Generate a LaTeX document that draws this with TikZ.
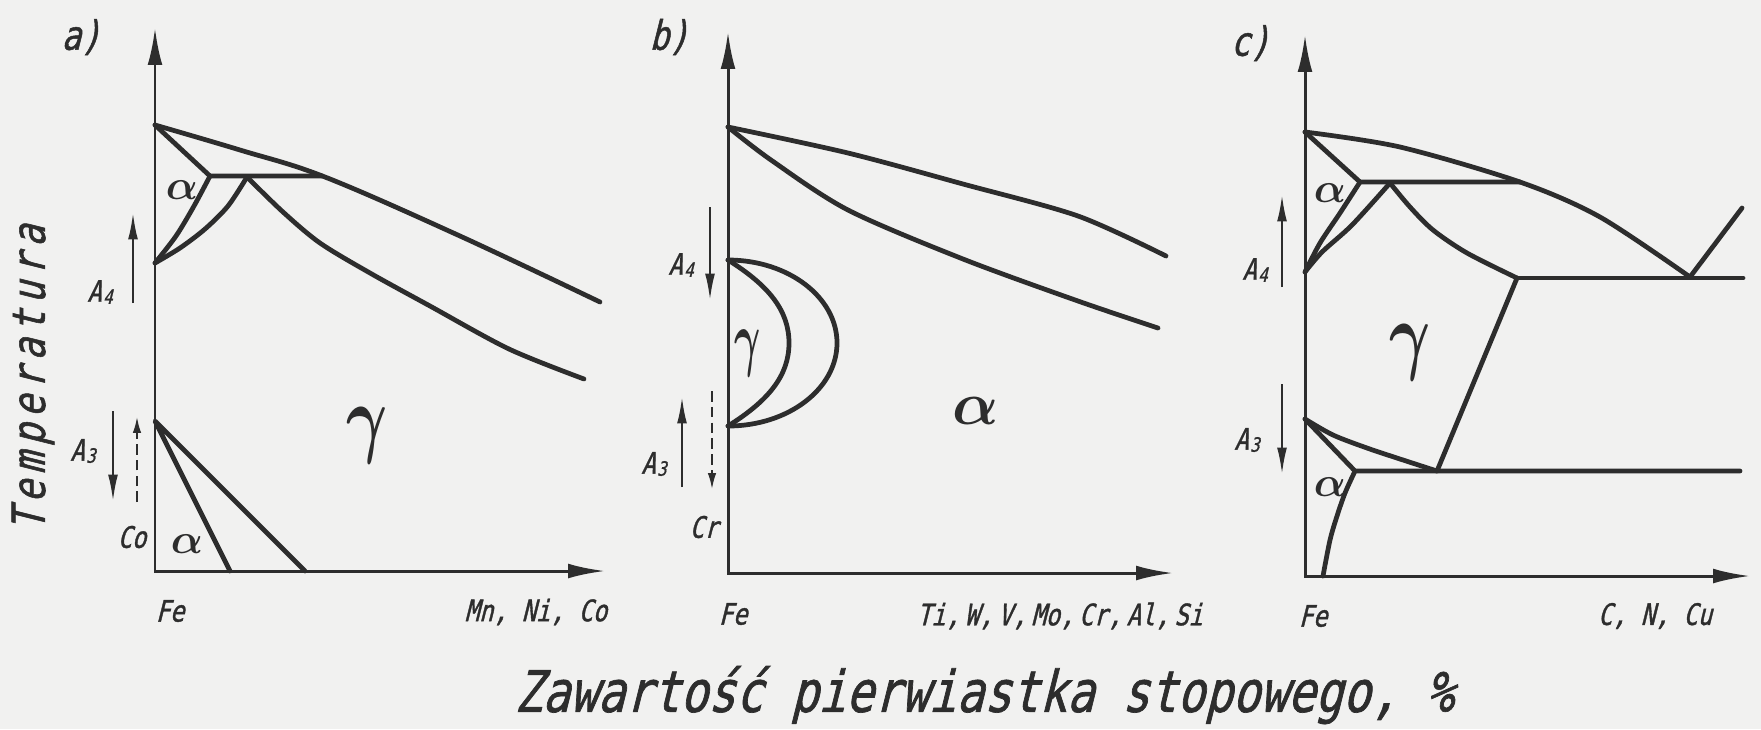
\documentclass[tikz,border=0pt]{standalone}
\usepackage{fontspec}
\usetikzlibrary{arrows.meta}
\newfontfamily\isofont[FakeSlant=0.25,FakeStretch=0.8,FakeBold=1.2]{DejaVu Sans Mono}
\definecolor{ink}{RGB}{45,45,45}
\definecolor{paper}{RGB}{241,241,240}
\newcommand{\Acrit}[1]{A\kern0.4pt\raisebox{-0.6pt}{\fontsize{5.6}{6}\selectfont #1}}

\begin{document}
\begin{tikzpicture}[x=0.01cm,y=-0.01cm,
  phase/.style={ink,line width=1.35pt,line join=round,line cap=round},
  axis/.style={ink,line width=0.85pt,{Latex[length=10.5pt,width=4.2pt]}-{Latex[length=10.5pt,width=4.2pt]}},
  trend/.style={ink,line width=0.6pt,-{Latex[length=7.5pt,width=2.8pt]}},
  trenddash/.style={ink,line width=0.5pt,dash pattern=on 3pt off 1.5pt,-{Latex[length=4.5pt,width=2.4pt]}},
  lbl/.style={ink,inner sep=0pt,font=\isofont\fontsize{8.4}{9}\selectfont},
  greek/.style={ink,inner sep=0pt,font=\boldmath\fontsize{#1}{#1}\selectfont}]
  \fill[paper] (0,0) rectangle (1761,729);
  \useasboundingbox (0,0) rectangle (1761,729);
  % axes and panel letters
  \foreach \x/\t/\b/\r in {155/28/571/605, 728/32/573/1173, 1305/35/576/1750}
    \draw[axis] (\x,\t) -- (\x,\b) -- (\r,\b);
  \foreach \p/\x/\y in {a/81/37, b/669/37, c/1250/43}
    \node[lbl,font=\isofont\fontsize{11.5}{12}\selectfont] (lab\p) at (\x,\y) {\p)};
  % panel a
  \draw[phase] plot[smooth,tension=0.6] coordinates {(155,125) (240,150) (325,177) (460,236) (600,302)};
  \draw[phase] (155,125) -- (210,176) -- (322,176);
  \draw[phase] plot[smooth] coordinates {(210,176) (194,206) (176,236) (155,263)};
  \draw[phase] plot[smooth] coordinates {(155,263) (180,248) (205,229) (228,206) (247,177)};
  \draw[phase] plot[smooth] coordinates {(247,177) (283,212) (320,243) (370,273) (430,306) (509,349) (584,379)};
  \draw[phase] (230,571) -- (155,421) -- (305,571);
  \node[greek=12] (aalphaup) at (182,190) {$\alpha$};
  \node[greek=12] (aalphalow) at (187,544) {$\alpha$};
  \node[greek=24] (agamma) at (367,436) {\scalebox{0.72}[1]{$\gamma$}};
  \node[lbl] (aA4) at (100,292) {\Acrit{4}};
  \node[lbl] (aA3) at (83,451) {\Acrit{3}};
  \node[lbl] (aCo) at (132,537) {Co};
  \node[lbl] (aFe) at (170,611) {Fe};
  \node[lbl] (aX) at (536,612) {Mn, Ni, Co};
  \draw[trend] (133,303) -- (133,213);
  \draw[trend] (113,411) -- (113,501);
  \draw[trenddash] (137,502) -- (137,417);
  % panel b
  \draw[phase] plot[smooth] coordinates {(728,127) (848,153) (963,184) (1078,216) (1166,256)};
  \draw[phase] plot[smooth] coordinates {(728,127) (771,160) (848,210) (963,259) (1078,301) (1158,328)};
  \draw[phase] (728,260) arc[start angle=-90,end angle=90,x radius=109,y radius=83];
  \draw[phase] (728,260) .. controls (768,285) and (789,310) .. (789,343)
    .. controls (789,376) and (768,401) .. (728,426);
  \node[greek=20] (bgamma) at (748,353) {\scalebox{0.55}[1]{$\gamma$}};
  \node[greek=17] (balpha) at (976,411) {$\alpha$};
  \node[lbl] (bA4) at (681,265) {\Acrit{4}};
  \node[lbl] (bA3) at (654,464) {\Acrit{3}};
  \node[lbl] (bCr) at (704,527) {Cr};
  \node[lbl] (bFe) at (733,614) {Fe};
  \node[lbl] (bX) at (1060,616) {Ti,\,W,\,V,\,Mo,\,Cr,\,Al,\,Si};
  \draw[trend] (710,207) -- (710,300);
  \draw[trend] (682,487) -- (682,397);
  \draw[trenddash] (712,391) -- (712,489);
  % panel c
  \draw[phase] plot[smooth] coordinates {(1305,132) (1400,147) (1520,182) (1600,217) (1690,277)};
  \draw[phase] (1305,132) -- (1360,182) -- (1520,182);
  \draw[phase] plot[smooth] coordinates {(1360,182) (1340,213) (1320,243) (1305,272)};
  \draw[phase] plot[smooth] coordinates {(1305,272) (1322,252) (1352,225) (1390,183)};
  \draw[phase] plot[smooth] coordinates {(1390,183) (1410,207) (1433,230) (1467,253) (1517,278)};
  \draw[phase] (1517,278) -- (1743,278);
  \draw[phase] (1690,277) -- (1742,208);
  \draw[phase] (1517,278) -- (1437,471);
  \draw[phase] plot[smooth] coordinates {(1305,419) (1333,435) (1367,448) (1400,459) (1437,471)};
  \draw[phase] (1305,419) -- (1355,471) -- (1740,471);
  \draw[phase] plot[smooth] coordinates {(1355,471) (1345,493) (1337,516) (1330,540) (1323,576)};
  \node[greek=12] (calphaup) at (1330,193) {$\alpha$};
  \node[greek=12] (calphalow) at (1330,487) {$\alpha$};
  \node[greek=26] (cgamma) at (1410,353) {\scalebox{0.72}[1]{$\gamma$}};
  \node[lbl] (cA4) at (1255,270) {\Acrit{4}};
  \node[lbl] (cA3) at (1247,440) {\Acrit{3}};
  \node[lbl] (cFe) at (1313,616) {Fe};
  \node[lbl] (cX) at (1655,616) {C, N, Cu};
  \draw[trend] (1282,287) -- (1282,195);
  \draw[trend] (1282,384) -- (1282,474);
  % axis titles
  \node[ink,inner sep=0pt,rotate=90,font=\isofont\fontsize{13}{14}\selectfont\addfontfeatures{LetterSpace=14}] (ytitle) at (33,378) {Temperatura};
  \node[ink,inner sep=0pt,font=\isofont\fontsize{16.3}{17}\selectfont] (xtitle) at (984,695) {Zawartość pierwiastka stopowego, \%};
\end{tikzpicture}
\end{document}
